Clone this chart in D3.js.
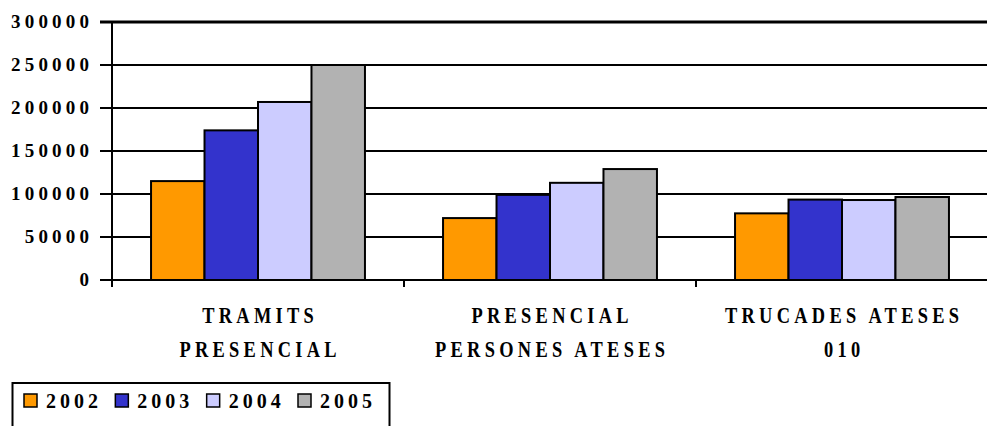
<!DOCTYPE html>
<html>
<head>
<meta charset="utf-8">
<script src="https://cdn.jsdelivr.net/npm/d3@7/dist/d3.min.js"></script>
<style>
  html, body { margin: 0; padding: 0; background: #fff; }
  svg { display: block; }
</style>
</head>
<body>
<svg id="chart" width="987" height="426"></svg>
<script>
// Categories (two-line labels) and yearly series
const categories = [
  ["TRAMITS", "PRESENCIAL"],
  ["PRESENCIAL", "PERSONES ATESES"],
  ["TRUCADES ATESES", "010"]
];
const years = ["2002", "2003", "2004", "2005"];
const values2002 = [115000, 72000, 77500];
const values2003 = [174000, 99000, 93500];
const values2004 = [207000, 113000, 93000];
const values2005 = [250000, 129000, 96500];
const yTicks = [0, 50000, 100000, 150000, 200000, 250000, 300000];
const colors = ["#FF9900", "#3333CC", "#CCCCFF", "#B2B2B2"];

const series = [values2002, values2003, values2004, values2005];
const FONT = "'Liberation Serif'";
const svg = d3.select("#chart");

const plot = { left: 112, right: 988, top: 22, bottom: 280 };

const x0 = d3.scaleBand()
  .domain(d3.range(categories.length))
  .range([plot.left, plot.right])
  .paddingInner(0).paddingOuter(0);

const x1 = d3.scaleBand()
  .domain(years)
  .range([0, x0.bandwidth()])
  .paddingInner(0).paddingOuter(0.73);

const y = d3.scaleLinear()
  .domain([0, 300000])
  .range([plot.bottom, plot.top]);

function label(sel) {
  return sel.attr("font-family", FONT).attr("font-weight", "bold").attr("fill", "#000");
}

// Horizontal gridlines (with the short tick stubs to the left of the axis)
svg.append("g")
  .selectAll("line")
  .data(yTicks.filter(d => d > 0))
  .join("line")
  .attr("x1", plot.left - 12)
  .attr("x2", 987)
  .attr("y1", d => y(d))
  .attr("y2", d => y(d))
  .attr("stroke", "#000")
  .attr("stroke-width", d => d === 300000 ? 3 : 2);

// Y tick labels
const yLS = 4.2;
svg.append("g")
  .selectAll("text")
  .data(yTicks)
  .join("text")
  .call(label)
  .attr("x", 89 + yLS)
  .attr("y", d => y(d) + 6)
  .attr("text-anchor", "end")
  .attr("font-size", 19)
  .attr("letter-spacing", yLS)
  .text(d => d);

// Bars
const groups = svg.append("g")
  .selectAll("g")
  .data(categories.map((c, i) => i))
  .join("g")
  .attr("transform", i => `translate(${x0(i)},0)`);

groups.selectAll("rect")
  .data(i => years.map((yr, k) => ({ yr, k, v: series[k][i] })))
  .join("rect")
  .attr("x", d => x1(d.yr))
  .attr("y", d => y(d.v))
  .attr("width", x1.bandwidth())
  .attr("height", d => y(0) - y(d.v))
  .attr("fill", d => colors[d.k])
  .attr("stroke", "#000")
  .attr("stroke-width", 2);

// Axis lines
svg.append("line")
  .attr("x1", plot.left).attr("x2", plot.left)
  .attr("y1", plot.top).attr("y2", plot.bottom + 7)
  .attr("stroke", "#000").attr("stroke-width", 2);
svg.append("line")
  .attr("x1", plot.left - 12).attr("x2", 987)
  .attr("y1", plot.bottom).attr("y2", plot.bottom)
  .attr("stroke", "#000").attr("stroke-width", 2);

// Category boundary ticks on the x axis
svg.append("g")
  .selectAll("line")
  .data(d3.range(1, categories.length))
  .join("line")
  .attr("x1", i => x0(i)).attr("x2", i => x0(i))
  .attr("y1", plot.bottom).attr("y2", plot.bottom + 7)
  .attr("stroke", "#000").attr("stroke-width", 2);

// Category labels (condensed bold serif, two lines)
const labelSX = 0.8;
const labelLS = 4.3;
categories.forEach((lines, i) => {
  const cx = x0(i) + x0.bandwidth() / 2;
  lines.forEach((line, j) => {
    svg.append("text")
      .call(label)
      .attr("transform", `translate(${cx + labelLS / 2},${323 + j * 34}) scale(${labelSX},1)`)
      .attr("text-anchor", "middle")
      .attr("font-size", 23)
      .attr("letter-spacing", labelLS / labelSX)
      .text(line);
  });
});

// Legend
const legend = svg.append("g");
legend.append("rect")
  .attr("x", 12.5).attr("y", 383)
  .attr("width", 377).attr("height", 60)
  .attr("fill", "#fff")
  .attr("stroke", "#000").attr("stroke-width", 2);

const itemX = d3.scalePoint().domain(years).range([24, 298]);
const item = legend.selectAll("g.item")
  .data(years)
  .join("g")
  .attr("class", "item")
  .attr("transform", d => `translate(${itemX(d)},0)`);
item.append("rect")
  .attr("x", 0).attr("y", 394)
  .attr("width", 13).attr("height", 13)
  .attr("fill", (d, k) => colors[k])
  .attr("stroke", "#000").attr("stroke-width", 1.5);
item.append("text")
  .call(label)
  .attr("x", 22).attr("y", 407.5)
  .attr("font-size", 20)
  .attr("letter-spacing", 4)
  .text(d => d);
</script>
</body>
</html>
